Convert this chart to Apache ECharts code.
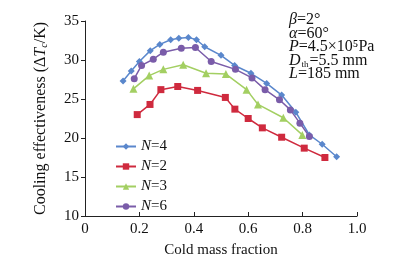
<!DOCTYPE html>
<html>
<head>
<meta charset="utf-8">
<script src="https://cdn.jsdelivr.net/npm/echarts@6/dist/echarts.min.js"></script>
<style>
  html, body { margin: 0; padding: 0; background: #fff; }
  #chart { width: 416px; height: 263px; }
</style>
</head>
<body>
<div id="chart"></div>
<script>
// 冷流比 / 制冷效应 数据
const n4X = [0.14, 0.17, 0.20, 0.24, 0.275, 0.315, 0.345, 0.38, 0.41, 0.44, 0.50, 0.55, 0.61, 0.668, 0.723, 0.775, 0.825, 0.872, 0.925];
const n4Y = [27.3, 28.6, 29.8, 31.2, 32.0, 32.6, 32.8, 32.9, 32.6, 31.7, 30.6, 29.3, 28.3, 27.0, 25.5, 23.3, 20.4, 19.2, 17.6];

const n2X = [0.192, 0.239, 0.279, 0.341, 0.414, 0.516, 0.551, 0.600, 0.652, 0.723, 0.806, 0.882];
const n2Y = [23.0, 24.3, 26.2, 26.6, 26.1, 25.2, 23.7, 22.5, 21.3, 20.1, 18.7, 17.5];

const n3X = [0.178, 0.236, 0.288, 0.361, 0.445, 0.518, 0.594, 0.636, 0.729, 0.799];
const n3Y = [26.3, 28.0, 28.8, 29.4, 28.3, 28.2, 26.2, 24.3, 22.6, 20.4];

const n6X = [0.181, 0.208, 0.251, 0.288, 0.354, 0.406, 0.464, 0.553, 0.614, 0.662, 0.715, 0.755, 0.79, 0.825];
const n6Y = [27.6, 29.3, 30.1, 31.0, 31.5, 31.6, 29.8, 28.8, 27.7, 26.2, 24.9, 23.6, 21.9, 20.2];

const seriesNames = ['N=4', 'N=2', 'N=3', 'N=6'];
const yTicks = [10, 15, 20, 25, 30, 35];

const FONT = 'Liberation Serif';

function pairs(xs, ys) {
    return xs.map((x, i) => [x, ys[i]]);
}

const chart = echarts.init(document.getElementById('chart'));

function makeSeries(name, xs, ys, color, symbol, size) {
    return {
        name: name,
        type: 'line',
        data: pairs(xs, ys),
        symbol: symbol,
        symbolSize: size,
        lineStyle: { width: 1.5, color: color },
        itemStyle: { color: color },
        animation: false
    };
}

// 参数标注
const richA = {
    i: { fontFamily: FONT, fontSize: 16, fontStyle: 'italic', fill: '#111' },
    s: { fontFamily: FONT, fontSize: 9, fill: '#111', verticalAlign: 'bottom', padding: [7, 1, 0, 1] },
    n: { fontFamily: FONT, fontSize: 16, fill: '#111' }
};
const notes = [
    ['{i|β}{n|=2°}', 12],
    ['{i|α}{n|=60°}', 25.5],
    ['{i|P}{n|=4.5×10⁵Pa}', 39],
    ['{i|D}{s|th}{n|=5.5 mm}', 53],
    ['{i|L}{n|=185 mm}', 66]
];

chart.setOption({
    animation: false,
    grid: { left: 85, right: 59, top: 21, bottom: 41 },
    legend: {
        data: seriesNames,
        orient: 'vertical',
        left: 110,
        top: 134,
        itemWidth: 20,
        itemHeight: 8,
        itemGap: 5,
        formatter: function (name) {
            return '{i|N}{n|' + name.slice(1) + '}';
        },
        textStyle: {
            fontFamily: FONT,
            fontSize: 15,
            color: '#111',
            rich: {
                i: { fontFamily: FONT, fontSize: 15, fontStyle: 'italic', color: '#111' },
                n: { fontFamily: FONT, fontSize: 15, color: '#111' }
            }
        }
    },
    xAxis: {
        type: 'value',
        min: 0,
        max: 1,
        interval: 0.2,
        name: 'Cold mass fraction',
        nameLocation: 'middle',
        nameGap: 27,
        nameTextStyle: { fontFamily: FONT, fontSize: 15, color: '#111' },
        axisLine: { lineStyle: { color: '#222', width: 1 } },
        axisTick: { inside: true, length: 4, lineStyle: { color: '#222' } },
        splitLine: { show: false },
        axisLabel: {
            fontFamily: FONT,
            fontSize: 15,
            color: '#111',
            margin: 6,
            formatter: function (v) { return v === 0 ? '0' : v.toFixed(1); }
        }
    },
    yAxis: {
        type: 'value',
        min: yTicks[0],
        max: yTicks[yTicks.length - 1],
        interval: 5,
        name: '{n|Cooling effectiveness (Δ}{i|T}{s|c}{n|/K)}',
        nameLocation: 'middle',
        nameGap: 36,
        nameTextStyle: {
            rich: {
                n: { fontFamily: FONT, fontSize: 16, color: '#111' },
                i: { fontFamily: FONT, fontSize: 16, fontStyle: 'italic', color: '#111' },
                s: { fontFamily: FONT, fontSize: 10, fontStyle: 'italic', color: '#111', verticalAlign: 'bottom', padding: [6, 0, 0, 0] }
            }
        },
        axisLine: { show: true, lineStyle: { color: '#222', width: 1 } },
        axisTick: { show: true, length: 4, lineStyle: { color: '#222' } },
        splitLine: { show: false },
        axisLabel: { fontFamily: FONT, fontSize: 15, color: '#111', margin: 6 }
    },
    graphic: notes.map(n => ({
        type: 'text', left: 289, top: n[1],
        style: { text: n[0], rich: richA }
    })),
    series: [
        makeSeries(seriesNames[0], n4X, n4Y, '#5a87cc', 'diamond', 7),
        makeSeries(seriesNames[1], n2X, n2Y, '#cf2a3e', 'rect', 7),
        makeSeries(seriesNames[2], n3X, n3Y, '#a3cf62', 'triangle', 8),
        makeSeries(seriesNames[3], n6X, n6Y, '#7a5ca9', 'circle', 7)
    ]
});
</script>
</body>
</html>
